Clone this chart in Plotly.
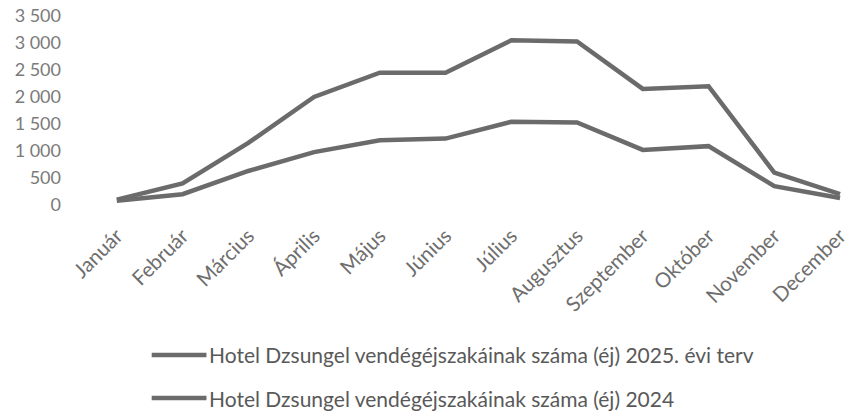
import plotly.graph_objects as go

# Monthly guest nights of Hotel Dzsungel
months = ["Január", "Február", "Március", "Április", "Május", "Június",
          "Július", "Augusztus", "Szeptember", "Október", "November", "December"]
plan_2025 = [100, 400, 1150, 2000, 2450, 2450, 3050, 3030, 2150, 2200, 600, 200]
actual_2024 = [80, 200, 630, 980, 1200, 1230, 1540, 1530, 1020, 1090, 350, 130]

name_2025 = "Hotel Dzsungel vendégéjszakáinak száma (éj) 2025. évi terv"
name_2024 = "Hotel Dzsungel vendégéjszakáinak száma (éj) 2024"

y_ticks = [0, 500, 1000, 1500, 2000, 2500, 3000, 3500]
y_tick_text = ["0", "500", "1 000", "1 500", "2 000", "2 500", "3 000", "3 500"]

line_color = "#6b6b6b"
font_family = "Lato, Open Sans, sans-serif"

W, H = 850, 412
M_L, M_R, M_T, M_B = 70, 0, 16, 207
plot_w, plot_h = W - M_L - M_R, H - M_T - M_B

fig = go.Figure()
series = [(name_2025, plan_2025), (name_2024, actual_2024)]
for name, values in series:
    fig.add_trace(go.Scatter(
        x=list(range(len(months))), y=values, mode="lines", name=name,
        line=dict(color=line_color, width=4.5), showlegend=False,
    ))

# Legend rows drawn below the axis: a line key followed by the series name
legend_rows_px = [355, 398]
key_x0, key_x1 = 152, 207
for (name, _), row_px in zip(series, legend_rows_px):
    y_paper = (H - M_B - row_px) / plot_h
    fig.add_shape(
        type="line", xref="paper", yref="paper",
        x0=(key_x0 - M_L) / plot_w, x1=(key_x1 - M_L) / plot_w,
        y0=y_paper, y1=y_paper,
        line=dict(color=line_color, width=4.5),
    )
    fig.add_annotation(
        xref="paper", yref="paper", x=(key_x1 + 1 - M_L) / plot_w, y=y_paper,
        xanchor="left", yanchor="middle", showarrow=False, text=name,
        font=dict(family=font_family, size=21, color="#595959"),
    )

fig.update_layout(
    width=W, height=H,
    margin=dict(l=M_L, r=M_R, t=M_T, b=M_B),
    paper_bgcolor="white", plot_bgcolor="white",
    showlegend=False,
    xaxis=dict(
        tickmode="array", tickvals=list(range(len(months))), ticktext=months,
        range=[-0.712, 11.106], showgrid=False, zeroline=False, showline=False,
        tickangle=-45, ticklabelstandoff=14, ticklabeloverflow="allow",
        tickfont=dict(family=font_family, size=20.5, color="#6e6e6e"),
    ),
    yaxis=dict(
        tickmode="array", tickvals=y_ticks, ticktext=y_tick_text,
        range=[0, 3500], showgrid=False, zeroline=False, showline=False,
        ticklabelstandoff=8,
        tickfont=dict(family=font_family, size=18, color="#7a7a7a"),
    ),
)

fig.write_html("out.html")
